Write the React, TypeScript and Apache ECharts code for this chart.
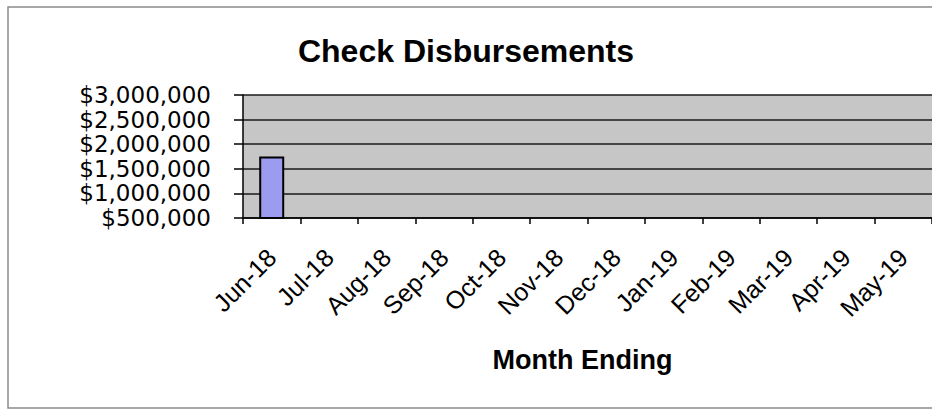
import React, { useEffect, useRef } from "react";
import * as echarts from "echarts";

const months = [
  "Jun-18", "Jul-18", "Aug-18", "Sep-18", "Oct-18", "Nov-18",
  "Dec-18", "Jan-19", "Feb-19", "Mar-19", "Apr-19", "May-19",
];
const disbursements: (number | null)[] = [
  1750000, null, null, null, null, null, null, null, null, null, null, null,
];
const yMin = 500000;
const yMax = 3000000;
const yStep = 500000;
const chartTitle = "Check Disbursements";
const xAxisTitle = "Month Ending";

const fmtDollar = (v: number) =>
  "$" + String(Math.round(v)).replace(/\B(?=(\d{3})+(?!\d))/g, ",");

export default function App() {
  const ref = useRef<HTMLDivElement>(null);
  useEffect(() => {
    if (!ref.current) return;
    const chart = echarts.init(ref.current, null, { renderer: "svg" });
    const font = "'Liberation Sans', Arial, sans-serif";
    chart.setOption({
      animation: false,
      backgroundColor: "#ffffff",
      title: {
        text: chartTitle,
        left: "center",
        top: 30,
        textStyle: { fontFamily: font, fontWeight: "bold", fontSize: 32, color: "#000" },
      },
      graphic: [
        {
          type: "rect",
          shape: { x: 8, y: 7, width: 1000, height: 401 },
          style: { fill: "none", stroke: "#8a8a8a", lineWidth: 1.5 },
          silent: true,
        },
      ],
      grid: {
        left: 243,
        top: 95,
        width: 707,
        height: 123,
        show: true,
        backgroundColor: "#c6c6c6",
        borderWidth: 0,
      },
      xAxis: {
        type: "category",
        data: months,
        boundaryGap: true,
        name: xAxisTitle,
        nameLocation: "middle",
        nameGap: 128,
        nameTextStyle: {
          fontFamily: font,
          fontWeight: "bold",
          fontSize: 27,
          color: "#000",
          padding: [0, 10, 0, 0],
        },
        axisLine: { show: true, lineStyle: { color: "#000", width: 1.5 } },
        axisTick: { show: true, length: 6, interval: 0, lineStyle: { color: "#000", width: 1.5 } },
        axisLabel: {
          interval: 0,
          rotate: 45,
          margin: 35,
          fontFamily: font,
          fontSize: 25,
          color: "#000",
        },
        splitLine: { show: false },
      },
      yAxis: {
        type: "value",
        min: yMin,
        max: yMax,
        interval: yStep,
        axisLine: { show: true, lineStyle: { color: "#000", width: 1.5 } },
        axisTick: { show: true, inside: false, length: 9, lineStyle: { color: "#000", width: 1.5 } },
        axisLabel: {
          margin: 32,
          fontFamily: "'DejaVu Sans', sans-serif",
          fontSize: 23,
          lineHeight: 22,
          color: "#000",
          formatter: (v: number) => fmtDollar(v),
        },
        splitLine: { show: true, lineStyle: { color: "#1a1a1a", width: 1.5 } },
      },
      series: [
        {
          type: "bar",
          data: disbursements,
          barWidth: 25,
          itemStyle: { color: "#9b9bef", borderColor: "#000", borderWidth: 2 },
        },
      ],
    });
    return () => chart.dispose();
  }, []);
  return (
    <div
      ref={ref}
      style={{ position: "fixed", left: 0, top: 0, width: 932, height: 412, background: "#fff" }}
    />
  );
}
